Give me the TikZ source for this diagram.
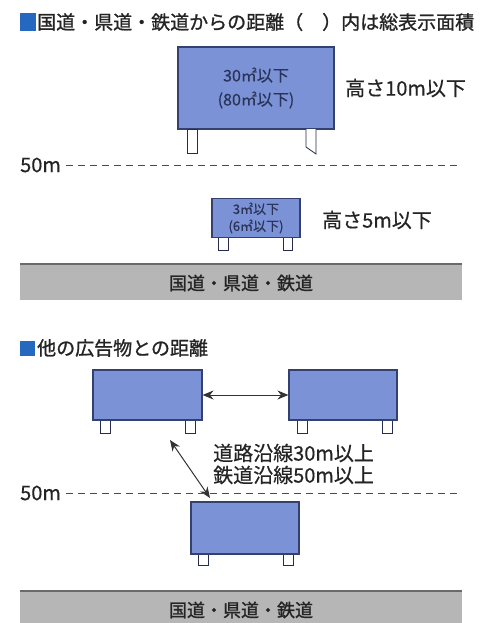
\documentclass[tikz,border=0pt]{standalone}
\usepackage{fontspec}
\setmainfont{Noto Sans CJK JP}[FakeBold=0.5]
\newfontfamily\headfont{Noto Sans CJK JP}[FakeBold=1.2]
\usepackage{tikz}
\usetikzlibrary{arrows.meta}
\definecolor{signblue}{RGB}{124,146,214}
\definecolor{signedge}{RGB}{52,64,110}
\definecolor{headblue}{RGB}{36,104,192}
\definecolor{roadgray}{RGB}{182,182,182}
\definecolor{roadedge}{RGB}{106,106,106}
\definecolor{inktext}{RGB}{36,36,36}
\tikzset{
  sign/.style={draw=signedge,fill=signblue,line width=1.1pt,inner sep=0pt,align=center,text=signedge!80!black},
  leg/.style={draw=signedge!70!black,fill=white,line width=0.8pt},
  fifty/.style={draw=black!70,line width=1pt,dash pattern=on 7pt off 5pt},
  road/.style={fill=roadgray,draw=none},
  distarrow/.style={{Stealth[length=11pt,width=9pt]}-{Stealth[length=11pt,width=9pt]},line width=1pt,draw=black!80},
  label/.style={text=inktext,font=\fontsize{20}{22}\selectfont,inner sep=0pt}
}
\begin{document}
\begin{tikzpicture}[x=1pt,y=-1pt]
\useasboundingbox (0,0) rectangle (486,623);
% heading 1
\fill[headblue] (20,13) rectangle (36,31);
\node[label,anchor=west,font=\headfont\fontsize{19}{21}\selectfont] (head1) at (37,22) {国道・県道・鉄道からの距離（　）内は総表示面積};
% large sign
\node[sign,minimum width=156pt,minimum height=82pt,font=\fontsize{16}{24}\selectfont] (big) at (256,88) {30㎡以下\\(80㎡以下)};
\draw[leg] (187,129) rectangle (197,153);
\draw[leg] (306,129) -- (306,147) -- (316,154) -- (316,129);
\node[label,anchor=west] (h10) at (345,88) {高さ10m以下};
% 50m line
\node[label,anchor=west] (fifty1) at (20,165) {50m};
\draw[fifty] (fifty1.east) ++(5,0) -- (462,165);
% small sign
\draw[leg] (218,237) rectangle (228,250);
\draw[leg] (283,237) rectangle (292,250);
\node[sign,minimum width=88pt,minimum height=39pt,font=\fontsize{13}{17}\selectfont] (small) at (256,218) {3㎡以下\\(6㎡以下)};
\node[label,anchor=west] (h5) at (322,220) {高さ5m以下};
% road 1
\fill[road] (20,263) rectangle (462,300);
\draw[roadedge,line width=2pt] (20,264) -- (462,264);
\node[label,font=\headfont\fontsize{18}{20}\selectfont] (road1) at (241,283) {国道・県道・鉄道};
% heading 2
\fill[headblue] (20,341) rectangle (35,356);
\node[label,anchor=west,font=\headfont\fontsize{19}{21}\selectfont] (head2) at (37,348) {他の広告物との距離};
% two signs side by side
\foreach \lx in {100,185,297,382}
  \draw[leg] (\lx,420) rectangle ++(10,13);
\node[sign,minimum width=109pt,minimum height=50pt] (left) at (147.5,395) {};
\node[sign,minimum width=108pt,minimum height=50pt] (right) at (343,395) {};
\draw[distarrow] (left.east) -- (right.west);
% diagonal distance
\coordinate (dtop) at (170,440);
\coordinate (dbot) at (210,498);
\draw[distarrow] (dtop) -- (dbot);
\node[label,anchor=west,align=left,font=\fontsize{20}{22}\selectfont] (rules) at (213,464) {道路沿線30m以上\\鉄道沿線50m以上};
% 50m line
\node[label,anchor=west] (fifty2) at (20,493) {50m};
\draw[fifty] (fifty2.east) ++(5,0) -- (462,493);
% lower sign
\foreach \lx in {198,283}
  \draw[leg] (\lx,554) rectangle ++(10,11);
\node[sign,minimum width=108pt,minimum height=52pt] (lower) at (245,528) {};
% road 2
\fill[road] (20,590) rectangle (462,623);
\draw[roadedge,line width=2pt] (20,591) -- (462,591);
\node[label,font=\headfont\fontsize{18}{20}\selectfont] (road2) at (241,610) {国道・県道・鉄道};
\end{tikzpicture}
\end{document}
